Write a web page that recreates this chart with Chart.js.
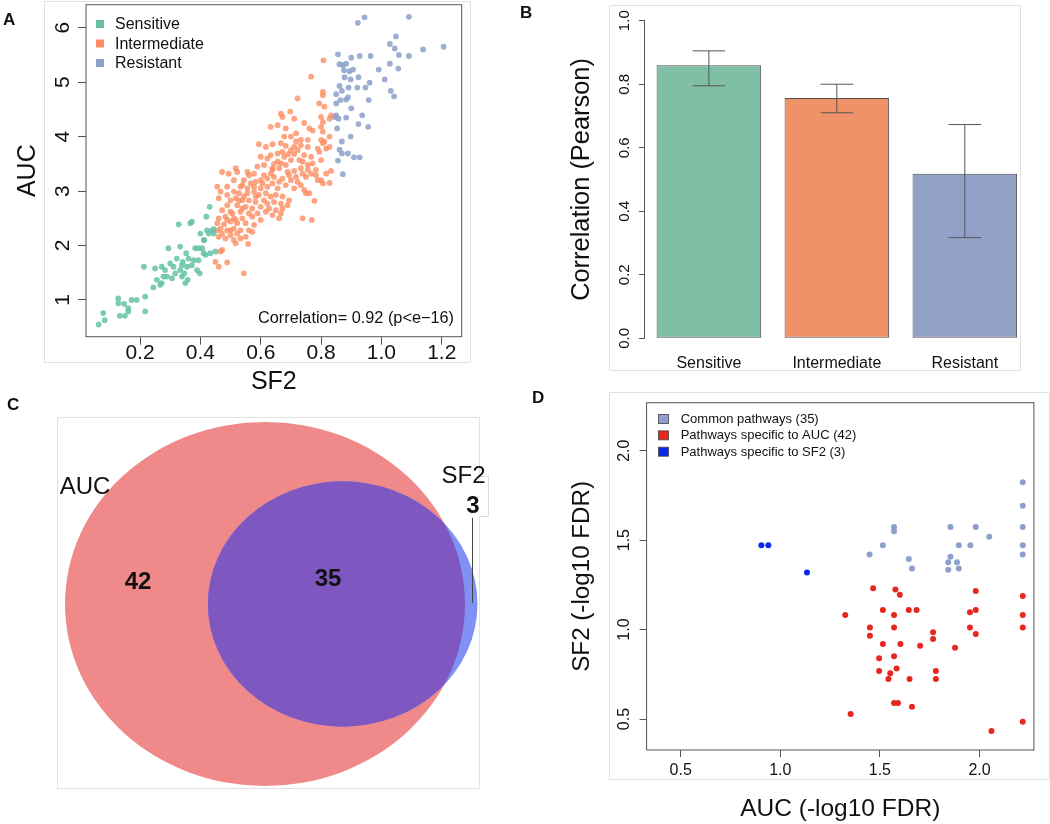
<!DOCTYPE html>
<html>
<head>
<meta charset="utf-8">
<script src="https://cdn.jsdelivr.net/npm/chart.js@4.4.1/dist/chart.umd.min.js"></script>
<style>
  body { margin: 0; background: #fff; width: 1050px; height: 824px; position: relative; overflow: hidden;
         font-family: "Liberation Sans", Arial, Helvetica, sans-serif; }
  .frame { position: absolute; border: 1px solid #e2e2e2; box-sizing: border-box; }
  .box { position: absolute; }
  .lbl { position: absolute; font-weight: bold; font-size: 17px; line-height: 20px; color: #111; }
  canvas { display: block; }
</style>
</head>
<body>
<div class="frame" style="left:44px;top:1px;width:427px;height:362px"></div>
<div class="frame" style="left:609px;top:5px;width:412px;height:366px"></div>
<div class="frame" style="left:57px;top:417px;width:423px;height:372px"></div>
<div class="frame" style="left:609px;top:392px;width:441px;height:388px"></div>

<div class="box" style="left:0;top:0"><canvas id="cA" width="475" height="400"></canvas></div>
<div class="box" style="left:500px;top:0"><canvas id="cB" width="550" height="385"></canvas></div>
<div class="box" style="left:0;top:380px"><canvas id="cC" width="520" height="440"></canvas></div>
<div class="box" style="left:520px;top:385px"><canvas id="cD" width="530" height="439"></canvas></div>

<div class="lbl" style="left:3px;top:10px">A</div>
<div class="lbl" style="left:520px;top:3px">B</div>
<div class="lbl" style="left:7px;top:395px">C</div>
<div class="lbl" style="left:532px;top:388px">D</div>

<script>
const FONT = '"Liberation Sans", Arial, Helvetica, sans-serif';
Chart.defaults.font.family = FONT;
Chart.defaults.color = '#111';
Chart.defaults.animation = false;
Chart.defaults.plugins.legend.display = false;
Chart.defaults.plugins.tooltip.enabled = false;

// ---- panel A : SF2 vs AUC per cell line group
const sensitivePts = [[0.063,0.55],[0.078,0.76],[0.083,0.63],[0.128,1.03],[0.128,0.94],[0.147,0.93],[0.161,0.85],[0.133,0.71],[0.150,0.71],[0.189,1.00],[0.217,1.06],[0.217,0.79],[0.213,1.61],[0.244,1.23],[0.256,1.37],[0.267,1.28],[0.272,1.61],[0.278,1.43],[0.283,1.55],[0.294,1.95],[0.300,1.67],[0.306,1.40],[0.311,1.61],[0.317,1.49],[0.322,1.76],[0.328,2.39],[0.333,1.98],[0.333,1.55],[0.342,1.70],[0.347,1.49],[0.353,1.86],[0.356,1.61],[0.358,1.37],[0.361,1.76],[0.367,2.41],[0.372,2.44],[0.372,1.64],[0.378,1.73],[0.383,1.95],[0.389,1.55],[0.394,1.73],[0.398,1.49],[0.400,2.22],[0.406,1.95],[0.411,2.10],[0.420,2.53],[0.417,1.83],[0.431,2.71],[0.428,2.22],[0.433,1.86],[0.439,2.28],[0.444,2.22],[0.450,1.89],[0.272,1.31],[0.250,1.58],[0.289,1.43],[0.339,1.64],[0.350,1.31],[0.339,1.43],[0.172,1.00],[0.161,0.79],[0.413,2.10],[0.422,2.28],[0.394,1.95],[0.411,1.86],[0.444,2.30]];
const intermediatePts = [[0.808,5.40],[0.767,5.10],[0.806,4.82],[0.806,4.76],[0.722,4.70],[0.794,4.61],[0.811,4.55],[0.667,4.42],[0.698,4.46],[0.672,4.36],[0.711,4.33],[0.744,4.25],[0.800,4.36],[0.806,4.27],[0.833,4.39],[0.828,4.33],[0.633,4.18],[0.656,4.21],[0.683,4.15],[0.761,4.15],[0.772,4.11],[0.800,4.18],[0.806,4.09],[0.717,4.06],[0.678,4.00],[0.700,4.00],[0.828,4.00],[0.800,3.94],[0.806,3.88],[0.811,3.91],[0.594,3.86],[0.617,3.81],[0.639,3.86],[0.667,3.88],[0.683,3.83],[0.717,3.91],[0.733,3.84],[0.722,3.75],[0.756,3.81],[0.789,3.78],[0.817,3.78],[0.828,3.81],[0.794,3.72],[0.672,3.72],[0.691,3.68],[0.711,3.68],[0.656,3.69],[0.633,3.66],[0.600,3.63],[0.622,3.60],[0.744,3.66],[0.767,3.63],[0.700,3.57],[0.728,3.57],[0.739,3.54],[0.667,3.51],[0.644,3.50],[0.683,3.48],[0.611,3.48],[0.589,3.45],[0.772,3.51],[0.756,3.48],[0.800,3.57],[0.661,3.42],[0.639,3.39],[0.711,3.37],[0.689,3.35],[0.733,3.42],[0.783,3.39],[0.833,3.37],[0.817,3.32],[0.472,3.35],[0.494,3.32],[0.517,3.42],[0.522,3.35],[0.556,3.35],[0.561,3.29],[0.578,3.32],[0.611,3.29],[0.622,3.23],[0.600,3.20],[0.644,3.26],[0.672,3.23],[0.694,3.29],[0.717,3.26],[0.739,3.32],[0.756,3.39],[0.661,3.17],[0.639,3.14],[0.683,3.11],[0.583,3.17],[0.567,3.14],[0.544,3.20],[0.539,3.11],[0.622,3.08],[0.600,3.05],[0.656,3.05],[0.806,3.14],[0.828,3.15],[0.800,3.20],[0.456,3.08],[0.467,2.99],[0.489,2.93],[0.511,2.99],[0.528,2.96],[0.556,2.96],[0.578,2.99],[0.594,2.93],[0.617,2.96],[0.633,2.90],[0.650,2.93],[0.672,2.90],[0.744,3.02],[0.750,2.96],[0.761,2.96],[0.778,2.82],[0.694,2.83],[0.689,2.74],[0.461,2.87],[0.500,2.83],[0.517,2.87],[0.539,2.83],[0.561,2.83],[0.583,2.80],[0.611,2.83],[0.622,2.77],[0.644,2.80],[0.667,2.77],[0.489,2.74],[0.522,2.74],[0.550,2.71],[0.572,2.68],[0.600,2.71],[0.628,2.68],[0.650,2.65],[0.672,2.68],[0.472,2.65],[0.500,2.62],[0.533,2.62],[0.561,2.59],[0.589,2.59],[0.617,2.62],[0.639,2.56],[0.667,2.59],[0.461,2.50],[0.483,2.53],[0.511,2.50],[0.539,2.50],[0.572,2.53],[0.600,2.47],[0.661,2.50],[0.739,2.50],[0.769,2.47],[0.456,2.41],[0.478,2.39],[0.500,2.44],[0.522,2.41],[0.550,2.41],[0.578,2.38],[0.467,2.31],[0.489,2.28],[0.511,2.31],[0.533,2.28],[0.561,2.28],[0.472,2.22],[0.500,2.19],[0.522,2.22],[0.550,2.16],[0.572,2.25],[0.483,2.13],[0.511,2.10],[0.533,2.13],[0.517,2.04],[0.558,2.03],[0.467,1.89],[0.472,1.92],[0.450,1.70],[0.461,1.61],[0.489,1.69],[0.544,1.49],[0.456,2.28],[0.461,2.16],[0.500,2.28],[0.517,2.47],[0.539,2.68],[0.583,2.90],[0.606,3.14],[0.633,3.32],[0.678,3.63],[0.700,3.75],[0.711,3.81],[0.733,3.94],[0.756,3.94],[0.656,3.54],[0.639,3.42],[0.578,3.08],[0.556,3.05],[0.528,2.83],[0.544,2.90],[0.506,2.59],[0.489,2.47],[0.700,3.20],[0.722,3.17],[0.750,3.26],[0.767,3.32],[0.783,3.29],[0.789,3.20],[0.711,3.05],[0.733,3.11],[0.511,3.20],[0.533,3.08],[0.489,3.08]];
const resistantPts = [[0.922,6.09],[0.944,6.19],[1.091,6.20],[1.048,5.84],[1.028,5.70],[1.044,5.62],[1.058,5.50],[1.206,5.65],[1.138,5.60],[1.091,5.48],[0.856,5.51],[0.900,5.45],[0.928,5.48],[0.964,5.48],[0.861,5.33],[0.872,5.31],[0.883,5.34],[0.876,5.22],[0.894,5.20],[0.906,5.23],[1.028,5.34],[1.056,5.25],[0.991,5.23],[1.011,5.05],[0.878,5.09],[0.898,5.05],[0.924,5.09],[0.961,4.99],[0.861,4.93],[0.891,4.90],[0.920,4.90],[0.947,4.90],[1.031,4.84],[1.042,4.74],[0.850,4.78],[0.869,4.84],[0.883,4.68],[0.864,4.67],[0.850,4.61],[0.889,4.72],[0.958,4.67],[0.900,4.52],[0.850,4.39],[0.858,4.33],[0.883,4.35],[0.936,4.39],[0.924,4.23],[0.956,4.18],[0.853,4.15],[0.869,3.91],[0.898,4.00],[0.861,3.76],[0.869,3.69],[0.889,3.69],[0.856,3.56],[0.909,3.62],[0.928,3.62],[0.872,3.31],[0.844,4.36]];
const groupNames = ['Sensitive', 'Intermediate', 'Resistant'];
const xTicksA = [0.2, 0.4, 0.6, 0.8, 1.0, 1.2];
const yTicksA = [1, 2, 3, 4, 5, 6];

// ---- panel B : correlation per group
const corrValues = [0.860, 0.757, 0.518];
const corrLow = [0.795, 0.710, 0.317];
const corrHigh = [0.905, 0.800, 0.673];
const yTicksB = [0, 0.2, 0.4, 0.6, 0.8, 1.0];

// ---- panel C : overlap of significant pathways
const vennNames = ['AUC', 'SF2'];
const vennCounts = [42, 35, 3];   // AUC only, both, SF2 only

// ---- panel D : pathway significance
const commonPts = [[2.217,1.823],[2.217,1.692],[2.217,1.573],[2.217,1.472],[2.217,1.420],[1.571,1.573],[1.571,1.550],[1.515,1.472],[1.448,1.420],[1.645,1.394],[1.661,1.341],[1.854,1.573],[1.981,1.573],[2.049,1.519],[1.896,1.472],[1.954,1.472],[1.854,1.407],[1.843,1.377],[1.887,1.377],[1.843,1.334],[1.896,1.341]];
const aucOnlyPts = [[1.326,1.082],[1.353,0.528],[1.466,1.231],[1.450,1.011],[1.450,0.965],[1.515,1.110],[1.515,0.920],[1.496,0.840],[1.496,0.769],[1.543,0.724],[1.552,0.756],[1.571,1.082],[1.571,1.011],[1.571,0.851],[1.584,0.782],[1.578,1.224],[1.600,1.194],[1.603,0.920],[1.571,0.590],[1.591,0.590],[1.645,1.110],[1.684,1.110],[1.649,0.724],[1.661,0.569],[1.702,0.909],[1.767,0.985],[1.767,0.948],[1.781,0.769],[1.781,0.724],[1.877,0.899],[1.952,1.097],[1.981,1.110],[1.981,1.215],[1.952,1.011],[1.981,0.976],[2.060,0.433],[2.217,1.187],[2.217,1.082],[2.217,1.011],[2.217,0.485]];
const sf2OnlyPts = [[0.905,1.472],[0.940,1.472],[1.134,1.319]];
const legendD = ['Common pathways (35)', 'Pathways specific to AUC (42)', 'Pathways specific to SF2 (3)'];
const ticksD = [0.5, 1.0, 1.5, 2.0];

const toXY = pts => pts.map(p => ({x: p[0], y: p[1]}));
const setTicks = vals => scale => { scale.ticks = vals.map(v => ({value: v})); };

// R style rotated y tick labels
function yTickLabels(x, size) {
    return {
        id: 'yTickLabels',
        afterDraw(chart) {
            const ctx = chart.ctx, s = chart.scales.y;
            ctx.save();
            ctx.font = size + 'px ' + FONT;
            ctx.fillStyle = '#111';
            ctx.textAlign = 'center';
            ctx.textBaseline = 'middle';
            s.ticks.forEach(t => {
                const y = s.getPixelForValue(t.value);
                ctx.save();
                ctx.translate(x, y);
                ctx.rotate(-Math.PI / 2);
                ctx.fillText(Number.isInteger(t.value) && size > 18 ? String(t.value) : t.value.toFixed(1), 0, 0);
                ctx.restore();
            });
            ctx.restore();
        }
    };
}

const plotBox = {
    id: 'plotBox',
    afterDraw(chart) {
        const a = chart.chartArea, ctx = chart.ctx;
        ctx.save();
        ctx.strokeStyle = '#555';
        ctx.lineWidth = 1;
        ctx.strokeRect(a.left, a.top, a.right - a.left, a.bottom - a.top);
        ctx.restore();
    }
};

// ---------- A
const colA = ['rgba(102,194,165,0.85)', 'rgba(252,141,98,0.8)', 'rgba(141,160,203,0.85)'];
const colAsolid = ['#66C2A5', '#FC8D62', '#8DA0CB'];

new Chart(document.getElementById('cA'), {
    type: 'scatter',
    data: {
        datasets: [sensitivePts, intermediatePts, resistantPts].map((pts, i) => ({
            label: groupNames[i], data: toXY(pts),
            backgroundColor: colA[i], borderWidth: 0, pointRadius: 2.9
        }))
    },
    options: {
        responsive: false,
        layout: { padding: { left: 0, top: 4.7, right: 13.3, bottom: 0 } },
        scales: {
            x: {
                type: 'linear', min: 0.021, max: 1.266,
                afterBuildTicks: setTicks(xTicksA),
                afterFit: s => { s.height = 63.3; },
                grid: { drawOnChartArea: false, tickLength: 8, color: '#555' },
                border: { display: false },
                ticks: { font: { size: 21 }, padding: -4, maxRotation: 0, callback: v => v.toFixed(1) },
                title: { display: true, text: 'SF2', font: { size: 25 }, padding: { top: 0, bottom: 3 } }
            },
            y: {
                type: 'linear', min: 0.326, max: 6.422,
                afterBuildTicks: setTicks(yTicksA),
                afterFit: s => { s.width = 86; },
                grid: { drawOnChartArea: false, tickLength: 8, color: '#555' },
                border: { display: false },
                ticks: { display: false },
                title: { display: true, text: 'AUC', font: { size: 25 }, padding: { top: 13 } }
            }
        }
    },
    plugins: [plotBox, yTickLabels(63.3, 21), {
        id: 'legendA',
        afterDraw(chart) {
            const ctx = chart.ctx;
            ctx.save();
            ctx.font = '16px ' + FONT;
            ctx.textBaseline = 'middle';
            groupNames.forEach((n, i) => {
                const y = 24 + i * 19.5;
                ctx.fillStyle = colAsolid[i];
                ctx.fillRect(96, y - 4, 8, 8);
                ctx.fillStyle = '#111';
                ctx.fillText(n, 115, y + 1);
            });
            ctx.textAlign = 'right';
            ctx.font = '16.3px ' + FONT;
            ctx.fillText('Correlation= 0.92 (p<e\u221216)', 454, 319);
            ctx.restore();
        }
    }]
});

// ---------- B
const colB = ['#7FBFA6', '#EF926A', '#92A1C8'];
new Chart(document.getElementById('cB'), {
    type: 'bar',
    data: {
        labels: groupNames,
        datasets: [{
            data: corrValues, backgroundColor: colB, borderColor: '#505050', borderWidth: 1,
            borderSkipped: false, barPercentage: 0.817, categoryPercentage: 1
        }]
    },
    options: {
        responsive: false,
        layout: { padding: { left: 0, top: 20.7, right: 21.2, bottom: 0 } },
        scales: {
            x: {
                grid: { display: false }, border: { display: false },
                ticks: { font: { size: 16 }, padding: 8, maxRotation: 0 },
                afterFit: s => { s.height = 46.7; }
            },
            y: {
                min: 0, max: 1,
                afterBuildTicks: setTicks(yTicksB),
                afterFit: s => { s.width = 144.9; },
                grid: { drawOnChartArea: false, tickLength: 6, color: '#555' },
                border: { display: true, color: '#555' },
                ticks: { display: false },
                title: { display: true, text: 'Correlation (Pearson)', font: { size: 25.4 }, padding: { top: 67.2 } }
            }
        }
    },
    plugins: [yTickLabels(124.5, 15), {
        id: 'errorBars',
        afterDatasetsDraw(chart) {
            const ctx = chart.ctx, ys = chart.scales.y, bars = chart.getDatasetMeta(0).data;
            ctx.save();
            ctx.strokeStyle = '#555';
            ctx.lineWidth = 1;
            bars.forEach((b, i) => {
                const lo = ys.getPixelForValue(corrLow[i]), hi = ys.getPixelForValue(corrHigh[i]);
                ctx.beginPath();
                ctx.moveTo(b.x, lo); ctx.lineTo(b.x, hi);
                ctx.moveTo(b.x - 16.3, lo); ctx.lineTo(b.x + 16.3, lo);
                ctx.moveTo(b.x - 16.3, hi); ctx.lineTo(b.x + 16.3, hi);
                ctx.stroke();
            });
            ctx.restore();
        }
    }]
});

// ---------- C
new Chart(document.getElementById('cC'), {
    type: 'scatter',
    data: { datasets: [] },
    options: {
        responsive: false,
        layout: { padding: { left: 57, top: 36.7, right: 41, bottom: 32 } },
        scales: {
            x: { type: 'linear', min: -1.04, max: 1.07, display: false },
            y: { type: 'linear', min: -1.011, max: 1.029, display: false }
        }
    },
    plugins: [{
        id: 'venn',
        afterDraw(chart) {
            const ctx = chart.ctx, xs = chart.scales.x, ys = chart.scales.y;
            const P = (x, y) => [xs.getPixelForValue(x), ys.getPixelForValue(y)];
            const ell = (cx, cy, r) => {
                const [px, py] = P(cx, cy);
                const rx = xs.getPixelForValue(cx + r) - px, ry = py - ys.getPixelForValue(cy + r);
                ctx.beginPath();
                ctx.ellipse(px, py, rx, ry, 0, 0, Math.PI * 2);
            };
            const auc = [0, 0, 1], sf2 = [0.3885, 0, 0.674];
            ctx.save();
            ell(...auc); ctx.fillStyle = 'rgb(240,138,138)'; ctx.fill();
            ell(...sf2); ctx.fillStyle = 'rgb(128,144,245)'; ctx.fill();
            ctx.save();
            ell(...auc); ctx.clip();
            ell(...sf2); ctx.fillStyle = 'rgb(126,87,192)'; ctx.fill();
            ctx.restore();

            // label box for the SF2 set
            ctx.fillStyle = '#fff';
            ctx.fillRect(440, 96, 48.5, 40.7);
            ctx.strokeStyle = '#dcdcdc';
            ctx.beginPath();
            ctx.moveTo(479.5, 96.5); ctx.lineTo(488.5, 96.5); ctx.lineTo(488.5, 136.5); ctx.lineTo(479.5, 136.5);
            ctx.stroke();
            let [lx, ly0] = P(1.034, 0.473);
            let [, ly1] = P(1.034, 0.005);
            ctx.strokeStyle = '#444';
            ctx.beginPath(); ctx.moveTo(Math.round(lx) + 0.5, ly0); ctx.lineTo(Math.round(lx) + 0.5, ly1); ctx.stroke();

            ctx.fillStyle = '#111';
            ctx.textBaseline = 'middle';
            ctx.textAlign = 'center';
            ctx.font = '24px ' + FONT;
            ctx.fillText(vennNames[0], ...P(-0.9, 0.643));
            ctx.fillText(vennNames[1], ...P(0.9925, 0.703));
            ctx.font = 'bold 24px ' + FONT;
            ctx.fillText(String(vennCounts[0]), ...P(-0.635, 0.121));
            ctx.fillText(String(vennCounts[1]), ...P(0.315, 0.137));
            ctx.fillText(String(vennCounts[2]), ...P(1.04, 0.538));
            ctx.restore();
        }
    }]
});

// ---------- D
const colD = ['rgb(141,160,205)', 'rgb(232,40,30)', 'rgb(10,40,235)'];
new Chart(document.getElementById('cD'), {
    type: 'scatter',
    data: {
        datasets: [commonPts, aucOnlyPts, sf2OnlyPts].map((pts, i) => ({
            label: legendD[i], data: toXY(pts),
            backgroundColor: colD[i], borderWidth: 0, pointRadius: 3
        }))
    },
    options: {
        responsive: false,
        layout: { padding: { left: 0, top: 17.7, right: 16.1, bottom: 0 } },
        scales: {
            x: {
                type: 'linear', min: 0.329, max: 2.273,
                afterBuildTicks: setTicks(ticksD),
                afterFit: s => { s.height = 74; },
                grid: { drawOnChartArea: false, tickLength: 7, color: '#555' },
                border: { display: false },
                ticks: { font: { size: 16 }, padding: 3.5, maxRotation: 0, callback: v => v.toFixed(1) },
                title: { display: true, text: 'AUC (-log10 FDR)', font: { size: 24.5 }, padding: { top: 0, bottom: 0 } }
            },
            y: {
                type: 'linear', min: 0.327, max: 2.268,
                afterBuildTicks: setTicks(ticksD),
                afterFit: s => { s.width = 126.6; },
                grid: { drawOnChartArea: false, tickLength: 7, color: '#555' },
                border: { display: false },
                ticks: { display: false },
                title: { display: true, text: 'SF2 (-log10 FDR)', font: { size: 24.2 }, padding: { top: 47.7 } }
            }
        }
    },
    plugins: [plotBox, yTickLabels(104.5, 16), {
        id: 'legendD',
        afterDraw(chart) {
            const ctx = chart.ctx;
            ctx.save();
            ctx.font = '13px ' + FONT;
            ctx.textBaseline = 'middle';
            legendD.forEach((n, i) => {
                const y = 34 + i * 16.35;
                ctx.fillStyle = colD[i];
                ctx.fillRect(138.5, y - 4.5, 10, 9);
                ctx.strokeStyle = '#444';
                ctx.lineWidth = 0.8;
                ctx.strokeRect(138.5, y - 4.5, 10, 9);
                ctx.fillStyle = '#111';
                ctx.fillText(n, 160.7, y + 0.5);
            });
            ctx.restore();
        }
    }]
});
</script>
</body>
</html>
